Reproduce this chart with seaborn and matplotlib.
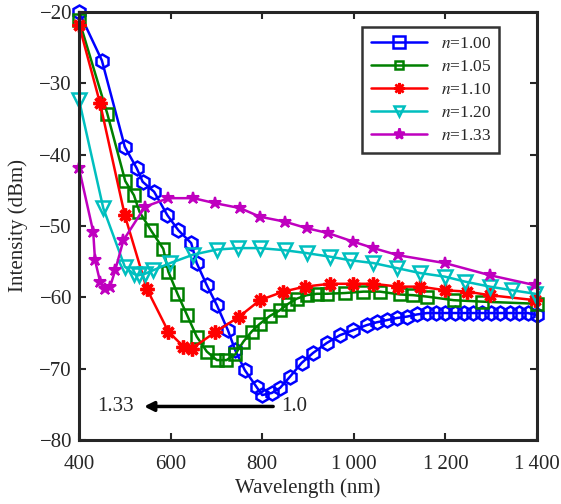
import numpy as np
import pandas as pd
import matplotlib
matplotlib.use("Agg")
import matplotlib.pyplot as plt
import seaborn as sns
from matplotlib.lines import Line2D

# Values
wl_100 = [400, 450, 500, 526, 539, 564, 593, 617, 645, 657, 679, 701, 725, 741, 762, 788, 800,
          821, 839, 861, 886, 911, 941, 970, 999, 1028, 1050, 1072, 1094, 1116, 1138, 1160,
          1180, 1200, 1220, 1240, 1260, 1280, 1300, 1320, 1340, 1360, 1380, 1400]
db_100 = [-20.0, -26.8, -38.9, -41.9, -43.8, -45.2, -48.5, -50.6, -52.4, -55.2, -58.3, -61.1,
          -64.6, -67.4, -70.2, -72.6, -73.7, -73.4, -72.7, -71.1, -69.2, -67.8, -66.4, -65.3,
          -64.6, -63.9, -63.5, -63.2, -62.9, -62.7, -62.4, -62.2, -62.2, -62.2, -62.2, -62.2,
          -62.2, -62.2, -62.2, -62.2, -62.2, -62.2, -62.2, -62.5]

wl_105 = [400, 462, 501, 520, 532, 557, 584, 595, 615, 636, 657, 679, 701, 722, 741, 759, 777,
          795, 817, 839, 857, 875, 897, 919, 941, 980, 1021, 1057, 1101, 1130, 1160, 1218, 1279,
          1399]
db_105 = [-21.1, -34.3, -43.7, -45.7, -48.0, -50.6, -53.2, -56.4, -59.5, -62.5, -65.5, -67.6,
          -68.8, -68.8, -68.0, -66.2, -64.8, -63.7, -62.6, -61.8, -60.9, -60.2, -59.7, -59.5,
          -59.5, -59.4, -59.2, -59.2, -59.6, -59.7, -59.9, -60.4, -60.6, -60.9]

wl_110 = [400, 446, 500, 548, 595, 628, 646, 697, 750, 795, 846, 893, 948, 999, 1043, 1097,
          1145, 1199, 1247, 1297, 1396]
db_110 = [-21.8, -32.8, -48.5, -58.8, -64.8, -66.9, -67.2, -64.9, -62.7, -60.4, -59.2, -58.5,
          -58.1, -58.1, -58.1, -58.5, -58.5, -59.0, -59.2, -59.7, -60.4]

wl_120 = [400, 453, 500, 519, 530, 544, 562, 599, 650, 701, 748, 795, 850, 897, 948, 992, 1043,
          1094, 1145, 1199, 1243, 1297, 1345, 1396]
db_120 = [-32.3, -47.5, -55.7, -56.7, -56.9, -56.7, -56.2, -55.2, -54.0, -53.3, -53.1, -53.1,
          -53.4, -53.8, -54.3, -54.8, -55.2, -55.9, -56.6, -57.1, -57.8, -58.5, -59.0, -59.5]

wl_133 = [400, 431, 435, 446, 457, 468, 479, 497, 544, 595, 650, 697, 752, 795, 850, 897, 944,
          999, 1043, 1097, 1199, 1297, 1396]
db_133 = [-41.9, -50.8, -54.8, -57.8, -58.8, -58.5, -56.2, -52.0, -47.3, -46.1, -46.1, -46.8,
          -47.5, -48.7, -49.4, -50.3, -51.0, -52.2, -53.1, -54.1, -55.2, -56.9, -58.3]

labels = ["1.00", "1.05", "1.10", "1.20", "1.33"]
colors = ["#0000ff", "#008000", "#ff0000", "#00bfbf", "#bf00bf"]

sns.set_style("ticks")
plt.rcParams["font.family"] = ["Liberation Serif", "DejaVu Serif"]
plt.rcParams["mathtext.fontset"] = "stix"

fig, ax = plt.subplots(figsize=(5.61, 5.04), dpi=100)
fig.subplots_adjust(left=79 / 561, right=537 / 561, top=1 - 12 / 504, bottom=1 - 440 / 504)

series = [(wl_100, db_100), (wl_105, db_105), (wl_110, db_110), (wl_120, db_120), (wl_133, db_133)]
styles = [
    dict(marker="h", markersize=10, markerfacecolor="none", markeredgewidth=1.8),
    dict(marker="s", markersize=8.5, markerfacecolor="none", markeredgewidth=1.8),
    dict(marker=(8, 2, 0), markersize=10, markeredgewidth=2.4),
    dict(marker="v", markersize=10, markerfacecolor="none", markeredgewidth=1.8),
    dict(marker="*", markersize=9, markeredgewidth=1.5),
]
for (x, y), c, st in zip(series, colors, styles):
    df = pd.DataFrame({"wl": x, "db": y})
    sns.lineplot(data=df, x="wl", y="db", color=c, linewidth=1.8, sort=False,
                 estimator=None, markeredgecolor=c, clip_on=False, ax=ax, **st)

ax.set_xlim(400, 1400)
ax.set_ylim(-80, -20)
ax.set_xticks([400, 600, 800, 1000, 1200, 1400])
ax.set_xticklabels(["400", "600", "800", "1\u2009000", "1\u2009200", "1\u2009400"])
ax.set_yticks([-80, -70, -60, -50, -40, -30, -20])
ax.set_yticklabels(["\u221280", "\u221270", "\u221260", "\u221250", "\u221240", "\u221230", "\u221220"])
ax.tick_params(direction="in", top=True, right=True, length=5, width=1.5, labelsize=15)
ax.tick_params(axis="x", pad=11)
ax.tick_params(axis="y", pad=5)
for s in ax.spines.values():
    s.set_linewidth(2.2)
ax.set_xlabel("Wavelength (nm)", fontsize=15, labelpad=3)
ax.set_ylabel("Intensity (dBm)", fontsize=15, labelpad=8)

# arrow annotation
ax.annotate("", xy=(536, -75.3), xytext=(830, -75.3),
            arrowprops=dict(arrowstyle="-|>", color="black", lw=2.5, mutation_scale=14))
ax.text(440, -75.3, "1.33", fontsize=15, va="center", ha="left")
ax.text(842, -75.3, "1.0", fontsize=15, va="center", ha="left")

# legend (blue drawn with a square marker as in the reference)
leg_markers = ["s", "s", (8, 2, 0), "v", "*"]
leg_sizes = [8, 6, 8, 7, 8]
handles = [Line2D([], [], color=c, marker=m, markersize=ms, lw=1.8,
                  markerfacecolor=("none" if m in ("s", "v") else c), markeredgecolor=c,
                  markeredgewidth=1.8)
           for c, m, ms in zip(colors, leg_markers, leg_sizes)]
leg = ax.legend(handles, [f"$n$=1.{l[2:]}" for l in labels], loc="upper left",
                bbox_to_anchor=(0.6, 0.985), fontsize=12.5, frameon=True, fancybox=False,
                edgecolor="black", handlelength=3.2, borderpad=0.5, labelspacing=0.4)
leg.get_frame().set_linewidth(1.8)

fig.savefig("out.png", dpi=100)
